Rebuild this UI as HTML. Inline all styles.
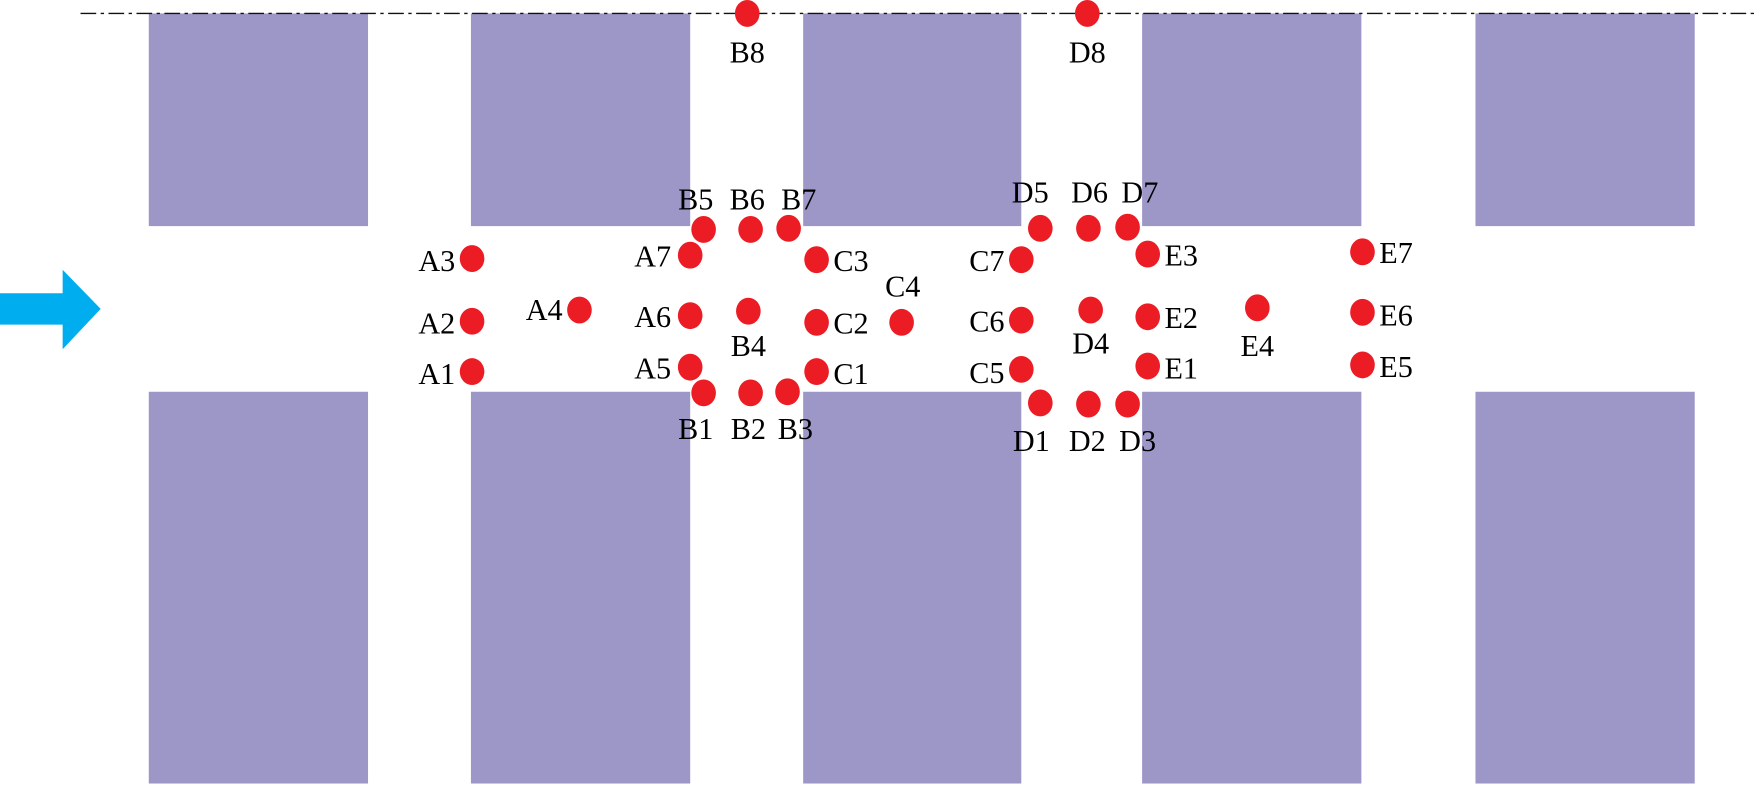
<!DOCTYPE html>
<html><head><meta charset="utf-8"><style>
html,body{margin:0;padding:0;background:#fff;}
svg{display:block;}
text{font-family:"Liberation Serif",serif;font-size:27px;fill:#000;}
</style></head><body>
<svg width="1754" height="788" viewBox="0 0 1568 704" preserveAspectRatio="none" xmlns="http://www.w3.org/2000/svg">
<g fill="#9C97C7">
<rect x="133" y="12" width="196" height="190"/>
<rect x="421" y="12" width="196" height="190"/>
<rect x="718" y="12" width="195" height="190"/>
<rect x="1021" y="12" width="196" height="190"/>
<rect x="1319" y="12" width="196" height="190"/>
<rect x="133" y="350" width="196" height="350"/>
<rect x="421" y="350" width="196" height="350"/>
<rect x="718" y="350" width="195" height="350"/>
<rect x="1021" y="350" width="196" height="350"/>
<rect x="1319" y="350" width="196" height="350"/>
</g>
<line x1="72" y1="12" x2="1568" y2="12" stroke="#111" stroke-width="1.3" stroke-dasharray="14,4,3,4"/>
<polygon fill="#00AEEF" points="0,262 56,262 56,241 90,276 56,312 56,290 0,290"/>
<g fill="#EC1C24">
<ellipse cx="668" cy="12" rx="11" ry="12"/><ellipse cx="972" cy="12" rx="11" ry="12"/>
<ellipse cx="629" cy="205" rx="11" ry="12"/><ellipse cx="671" cy="205" rx="11" ry="12"/><ellipse cx="705" cy="204" rx="11" ry="12"/>
<ellipse cx="930" cy="204" rx="11" ry="12"/><ellipse cx="973" cy="204" rx="11" ry="12"/><ellipse cx="1008" cy="203" rx="11" ry="12"/>
<ellipse cx="422" cy="231" rx="11" ry="12"/><ellipse cx="617" cy="228" rx="11" ry="12"/><ellipse cx="730" cy="232" rx="11" ry="12"/><ellipse cx="913" cy="232" rx="11" ry="12"/><ellipse cx="1026" cy="227" rx="11" ry="12"/><ellipse cx="1218" cy="225" rx="11" ry="12"/>
<ellipse cx="422" cy="287" rx="11" ry="12"/><ellipse cx="518" cy="277" rx="11" ry="12"/><ellipse cx="617" cy="282" rx="11" ry="12"/><ellipse cx="669" cy="278" rx="11" ry="12"/><ellipse cx="730" cy="288" rx="11" ry="12"/><ellipse cx="806" cy="288" rx="11" ry="12"/><ellipse cx="913" cy="286" rx="11" ry="12"/><ellipse cx="975" cy="277" rx="11" ry="12"/><ellipse cx="1026" cy="283" rx="11" ry="12"/><ellipse cx="1124" cy="275" rx="11" ry="12"/><ellipse cx="1218" cy="279" rx="11" ry="12"/>
<ellipse cx="422" cy="332" rx="11" ry="12"/><ellipse cx="617" cy="328" rx="11" ry="12"/><ellipse cx="730" cy="332" rx="11" ry="12"/><ellipse cx="913" cy="330" rx="11" ry="12"/><ellipse cx="1026" cy="327" rx="11" ry="12"/><ellipse cx="1218" cy="326" rx="11" ry="12"/>
<ellipse cx="629" cy="351" rx="11" ry="12"/><ellipse cx="671" cy="351" rx="11" ry="12"/><ellipse cx="704" cy="350" rx="11" ry="12"/>
<ellipse cx="930" cy="360" rx="11" ry="12"/><ellipse cx="973" cy="361" rx="11" ry="12"/><ellipse cx="1008" cy="361" rx="11" ry="12"/>
</g>
<g text-anchor="middle">
<text x="668" y="56">B8</text><text x="972" y="56">D8</text>
<text x="622" y="187">B5</text><text x="668" y="187">B6</text><text x="714" y="187">B7</text>
<text x="921" y="181">D5</text><text x="974" y="181">D6</text><text x="1019" y="181">D7</text>
<text x="807" y="265">C4</text><text x="669" y="318">B4</text><text x="975" y="316">D4</text><text x="1124" y="318">E4</text>
<text x="622" y="392">B1</text><text x="669" y="392">B2</text><text x="711" y="392">B3</text>
<text x="922" y="403">D1</text><text x="972" y="403">D2</text><text x="1017" y="403">D3</text>
</g>
<g text-anchor="end">
<text x="407" y="242">A3</text><text x="600" y="238">A7</text><text x="898" y="242">C7</text>
<text x="407" y="298">A2</text><text x="503" y="286">A4</text><text x="600" y="292">A6</text><text x="898" y="296">C6</text>
<text x="407" y="343">A1</text><text x="600" y="338">A5</text><text x="898" y="342">C5</text>
</g>
<g>
<text x="745" y="242">C3</text><text x="1041" y="237">E3</text><text x="1233" y="235">E7</text>
<text x="745" y="298">C2</text><text x="1041" y="293">E2</text><text x="1233" y="291">E6</text>
<text x="745" y="343">C1</text><text x="1041" y="338">E1</text><text x="1233" y="337">E5</text>
</g>
</svg>
</body></html>
